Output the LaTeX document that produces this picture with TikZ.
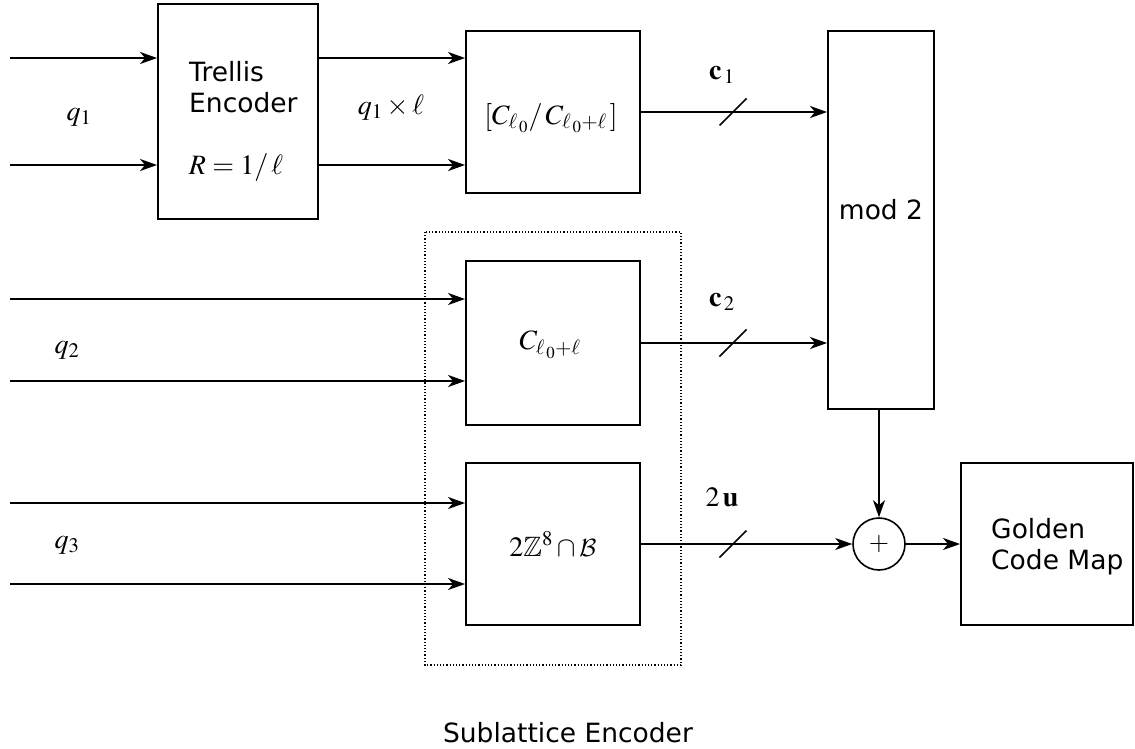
\documentclass[tikz,border=0pt]{standalone}
\usepackage{amssymb}
\usepackage{mathptmx}
\usepackage[no-math]{fontspec}
\setmainfont{DejaVu Sans}
\DeclareMathAlphabet{\mathcalcm}{OMS}{cmsy}{m}{n}
\usetikzlibrary{arrows.meta,calc}
\begin{document}
\begin{tikzpicture}[x=1pt,y=-1pt,
  blk/.style={draw,line width=1.9pt,inner sep=0pt},
  conn/.style={line width=1.9pt,-{Stealth[length=17pt,width=12pt,inset=5pt]}},
  slashmark/.style={line width=1.7pt},
  txt/.style={font=\fontsize{26.5}{31}\selectfont,inner sep=0pt},
  mth/.style={font=\fontsize{28}{32}\selectfont,inner sep=0pt}]
\useasboundingbox (0,0) rectangle (1135,748);
% blocks
\node[blk,minimum width=160,minimum height=215] (trellis) at (238,111.5) {};
\node[blk,minimum width=174,minimum height=162] (quot) at (553,112) {};
\node[blk,minimum width=106,minimum height=378] (mod) at (881,220) {};
\node[blk,minimum width=174,minimum height=164] (cbox) at (553,343) {};
\node[blk,minimum width=174,minimum height=162] (zbox) at (553,544) {};
\node[blk,circle,line width=1.6pt,minimum size=52] (sum) at (879,544) {};
\node[blk,minimum width=172,minimum height=162] (golden) at (1047,544) {};
\draw[line width=1.2pt,dotted] (425,232) rectangle (681,665);
% texts
\node[txt,align=left,anchor=north west] (ttxt) at (189,61) {Trellis\\Encoder};
\node[mth] (rtxt) at (236,168) {$R=1/\,\ell$};
\node[mth] (qtxt) at (551,118) {$[C_{\ell_{\,0}}/\,C_{\ell_{\,0}+\ell}\,]$};
\node[txt] (modtxt) at (881,210) {mod 2};
\node[mth] (ctxt) at (550,345) {$C_{\ell_{\,0}+\ell}$};
\node[mth] (ztxt) at (553,544) {$2\mathbb{Z}^8\cap\mathcalcm{B}$};
\node[font=\fontsize{26}{30}\selectfont,inner sep=0pt] (plus) at (sum) {$+$};
\node[txt,align=left,anchor=north west] (gtxt) at (991,518) {Golden\\Code Map};
\node[txt] (subl) at (568,733) {Sublattice Encoder};
\node[mth] (q1) at (79,117) {$q_1$};
\node[mth] (q1l) at (391,108) {$q_1\times\ell$};
\node[mth] (q2) at (67,350) {$q_2$};
\node[mth] (q3) at (67,545) {$q_3$};
\node[mth] (c1) at (722,75) {$\mathbf{c}_{\,1}$};
\node[mth] (c2) at (722,302) {$\mathbf{c}_{\,2}$};
\node[mth] (u2) at (722,497) {$2\,\mathbf{u}$};
% inputs
\coordinate (i1) at (10,58);
\coordinate (i2) at (10,165);
\coordinate (i3) at (10,299);
\coordinate (i4) at (10,381);
\coordinate (i5) at (10,503);
\coordinate (i6) at (10,584);
\draw[conn] (i1) -- (i1 -| trellis.west);
\draw[conn] (i2) -- (i2 -| trellis.west);
\draw[conn] (trellis.east |- i1) -- (quot.west |- i1);
\draw[conn] (trellis.east |- i2) -- (quot.west |- i2);
\draw[conn] (i3) -- (i3 -| cbox.west);
\draw[conn] (i4) -- (i4 -| cbox.west);
\draw[conn] (i5) -- (i5 -| zbox.west);
\draw[conn] (i6) -- (i6 -| zbox.west);
% outputs
\draw[conn] (quot.east) -- (quot.east -| mod.west);
\draw[conn] (cbox.east) -- (cbox.east -| mod.west);
\draw[conn] (zbox.east) -- (sum.west);
\draw[conn] (mod.south -| sum.north) -- (sum.north);
\draw[conn] (sum.east) -- (golden.west);
% slash marks
\draw[slashmark] (733,112) ++(-13.5,13.5) -- ++(27,-27);
\draw[slashmark] (733,343) ++(-13.5,13.5) -- ++(27,-27);
\draw[slashmark] (733,544) ++(-13.5,13.5) -- ++(27,-27);
\end{tikzpicture}
\end{document}
